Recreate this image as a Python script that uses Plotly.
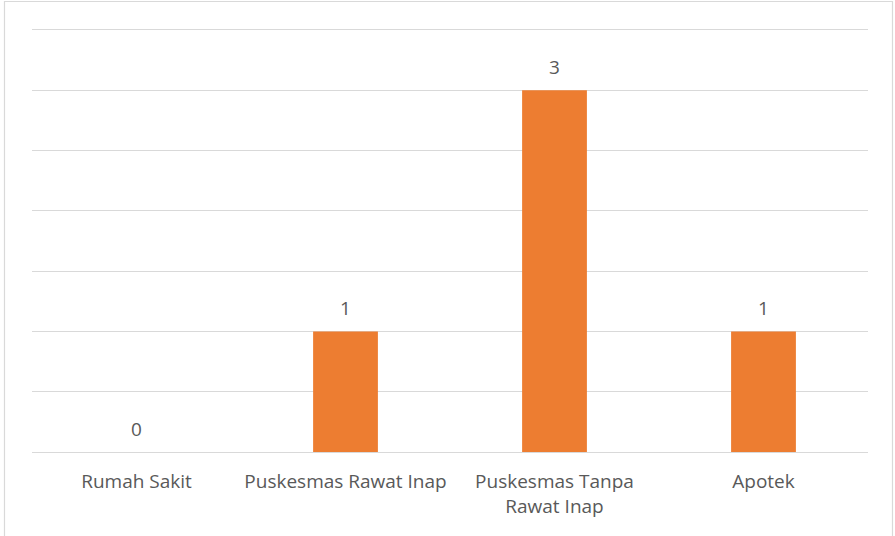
import plotly.graph_objects as go

categories = ["Rumah Sakit", "Puskesmas Rawat Inap", "Puskesmas Tanpa<br>Rawat Inap", "Apotek"]
values = [0, 1, 3, 1]
value_labels = ["0", "1", "3", "1"]

BAR = "#ED7D31"
GRID = "#D9D9D9"
TEXT = "#595959"
FONT = "Open Sans"
FS = 19

W, H = 895, 536
L, R, T, B = 32, 27, 30, 84
pw, ph = W - L - R, H - T - B

fig = go.Figure(go.Bar(x=categories, y=values, marker=dict(color=BAR, line=dict(width=0)),
                       hoverinfo="skip"))

for c, v, t in zip(categories, values, value_labels):
    fig.add_annotation(x=c, y=v, text=t, showarrow=False, yanchor="bottom",
                       yshift=8, font=dict(family=FONT, size=FS, color=TEXT))

# chart border
fig.add_shape(type="rect", xref="paper", yref="paper",
              x0=(4.5 - L) / pw, x1=(892.5 - L) / pw,
              y0=-0.4, y1=(H - B - 1.5) / ph,
              line=dict(color=GRID, width=1.2), fillcolor="rgba(0,0,0,0)", layer="below")

fig.update_layout(
    width=W, height=H,
    margin=dict(l=L, r=R, t=T, b=B),
    paper_bgcolor="white", plot_bgcolor="white",
    bargap=0.69,
    showlegend=False,
    font=dict(family=FONT, size=FS, color=TEXT),
    xaxis=dict(showgrid=False, showline=True, mirror=True, linecolor=GRID, linewidth=1.2,
               ticks="", ticklabelstandoff=12,
               tickfont=dict(family=FONT, size=FS, color=TEXT), fixedrange=True),
    yaxis=dict(range=[0, 3.5], dtick=0.5, showgrid=True, gridcolor=GRID, gridwidth=1.2,
               showticklabels=False, zeroline=False, fixedrange=True),
)

fig.write_html("out.html", config={"displayModeBar": False},
               post_script="document.body.style.margin='0px';")
